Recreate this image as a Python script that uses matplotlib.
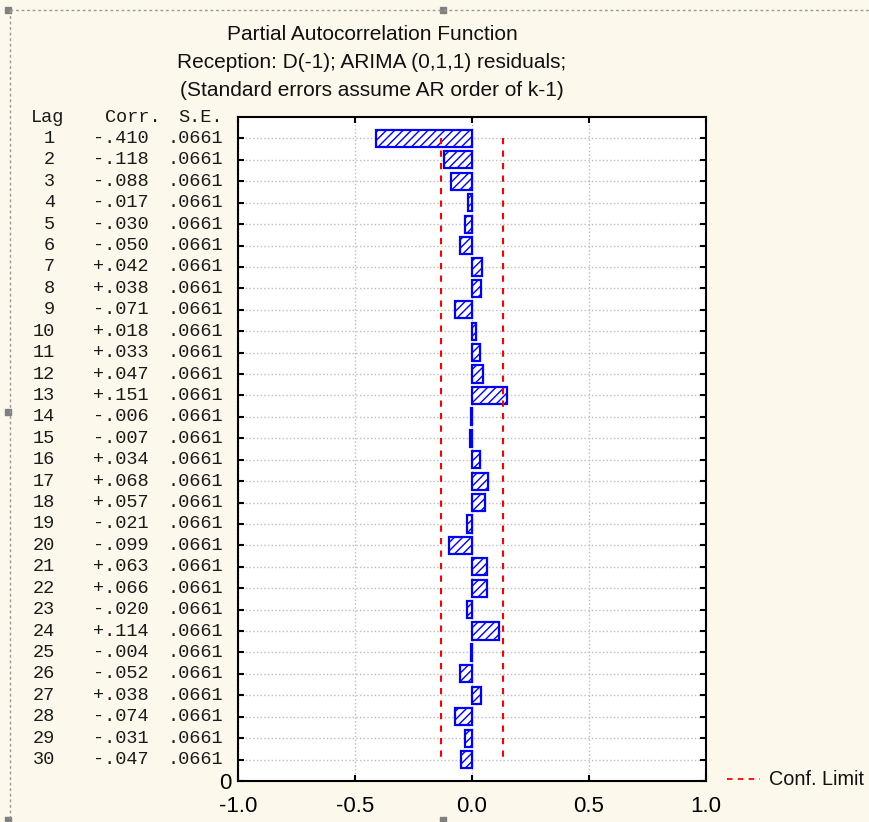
import matplotlib
matplotlib.use("Agg")
import matplotlib.pyplot as plt
import matplotlib.transforms as mtransforms
from matplotlib.lines import Line2D
from matplotlib.patches import Rectangle

# PACF values for lags 1..30
lags = list(range(1, 31))
corr = [-0.410, -0.118, -0.088, -0.017, -0.030, -0.050, 0.042, 0.038, -0.071, 0.018,
        0.033, 0.047, 0.151, -0.006, -0.007, 0.034, 0.068, 0.057, -0.021, -0.099,
        0.063, 0.066, -0.020, 0.114, -0.004, -0.052, 0.038, -0.074, -0.031, -0.047]
se = [0.0661] * 30
xticks = [-1.0, -0.5, 0.0, 0.5, 1.0]
title_lines = ["Partial Autocorrelation Function",
               "Reception: D(-1); ARIMA (0,1,1) residuals;",
               "(Standard errors assume AR order of k-1)"]

W, H = 869, 822
bg = '#fdf8ec'
narrow = ['Liberation Sans Narrow', 'Liberation Sans', 'DejaVu Sans']
plt.rcParams['font.family'] = narrow
plt.rcParams['hatch.color'] = 'blue'
plt.rcParams['hatch.linewidth'] = 1.0

fig = plt.figure(figsize=(W / 100, H / 100), dpi=100, facecolor=bg)
ax = fig.add_axes([238 / W, 1 - 781 / H, (706 - 238) / W, (781 - 117) / H])
ax.set_facecolor('white')
ax.set_xlim(-1, 1)
ax.set_ylim(31, 0)

ax.barh(lags, corr, height=0.8, color='white', edgecolor='blue',
        hatch='////', linewidth=1.6, zorder=3)

# confidence limits: +/- 2 S.E.
lim = 2 * se[0]
ax.vlines([-lim, lim], 1, 30, colors='red', linestyles=(0, (3, 3)), lw=1.5, zorder=4)

ax.grid(True, color='#bdbdbd', linestyle=':', lw=1, zorder=0)
ax.set_axisbelow(True)

ax.set_xticks(xticks)
ax.set_xticklabels([f"{t:.1f}" for t in xticks])
ax.set_yticks(lags + [31])
ax.set_yticklabels([''] * 30 + ['0'])
ax.tick_params(axis='both', direction='in', top=True, right=True,
               length=4, width=1.5, labelsize=16, colors='black')
ax.tick_params(axis='x', pad=11)
ax.tick_params(axis='y', pad=5)
for s in ax.spines.values():
    s.set_linewidth(1.5)

# title
for i, line in enumerate(title_lines):
    fig.text(372 / W, 1 - (35 + 28 * i) / H, line, ha='center', va='center',
             fontsize=15, family='Liberation Sans', color='#111111')

# table at the left
tr = mtransforms.blended_transform_factory(fig.transFigure, ax.transData)
mono = dict(family='Liberation Mono', fontsize=13.4, color='#1a1a1a',
            va='center', transform=tr)
fig.text(31 / W, 0, "Lag", ha='left', **mono)
fig.text(105 / W, 0, "Corr.", ha='left', **mono)
fig.text(178 / W, 0, "S.E.", ha='left', **mono)
for k, c, s in zip(lags, corr, se):
    cs = f"{c:+.3f}".replace("0.", ".", 1)
    ss = f"{s:.4f}"[1:]
    fig.text(55 / W, k, str(k), ha='right', **mono)
    fig.text(93 / W, k, cs, ha='left', **mono)
    fig.text(167 / W, k, ss, ha='left', **mono)

# legend
ly = 1 - 779 / H
fig.add_artist(Line2D([727 / W, 760 / W], [ly, ly], color='red',
                      ls=(0, (3, 3)), lw=1.3))
fig.text(769 / W, ly, "Conf. Limit", ha='left', va='center', fontsize=14.3,
         color='#111111')

# dashed frame and selection handles
fig.add_artist(Line2D([10 / W, 10 / W], [1 - 10 / H, 0], color='#9a9a9a',
                      ls=(0, (2, 2)), lw=1))
fig.add_artist(Line2D([10 / W, 1], [1 - 10 / H, 1 - 10 / H], color='#9a9a9a',
                      ls=(0, (2, 2)), lw=1))
for hx, hy in [(8, 10), (443, 10), (8, 412), (8, 820), (443, 820)]:
    fig.add_artist(Rectangle(((hx - 3) / W, 1 - (hy + 3) / H), 6 / W, 6 / H,
                             transform=fig.transFigure, color='#808080'))

fig.savefig('out.png', dpi=100, facecolor=bg)
